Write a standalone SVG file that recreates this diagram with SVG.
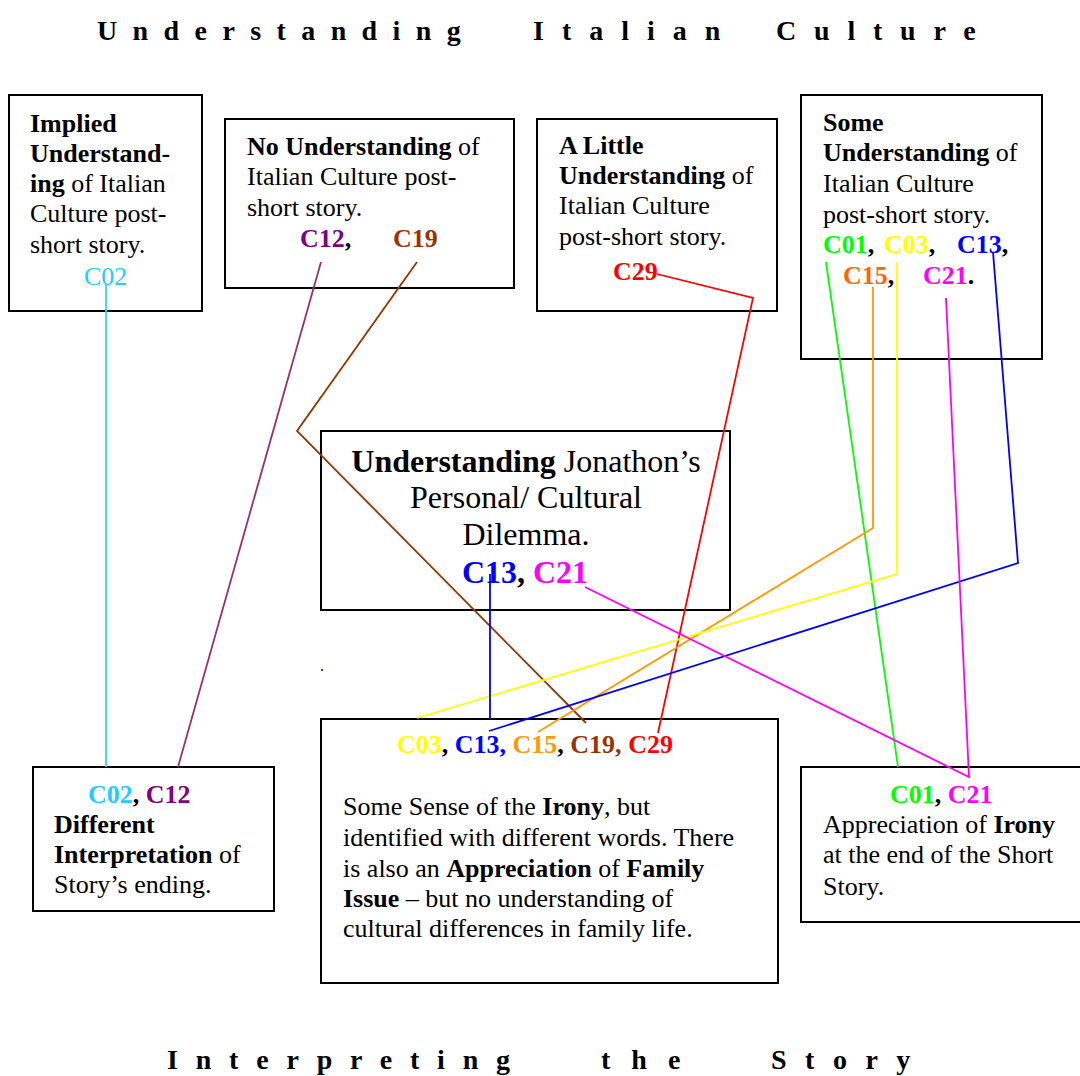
<svg xmlns="http://www.w3.org/2000/svg" width="1080" height="1076" viewBox="0 0 1080 1076">
<style>
text{font-family:"Liberation Serif","Times New Roman",serif;fill:#000}
.t{font-size:26px}
.c{font-size:32px}
.b{font-weight:bold}
.h{font-size:28px;font-weight:bold}
.box{fill:#fff;stroke:#000;stroke-width:2}
.ln{fill:none;stroke-width:1.8}
</style>
<rect width="1080" height="1076" fill="#fff"/>
<g id="title-top">
<text class="h" x="97" y="40" letter-spacing="15.4">Understanding</text>
<text class="h" x="533" y="40" letter-spacing="18">Italian</text>
<text class="h" x="776" y="40" letter-spacing="17.8">Culture</text>
</g>
<g id="title-bottom">
<text class="h" x="167" y="1069" letter-spacing="17.8">Interpreting</text>
<text class="h" x="601" y="1069" letter-spacing="21">the</text>
<text class="h" x="771" y="1069" letter-spacing="18.5">Story</text>
</g>
<g id="implied">
<rect class="box" x="9" y="95" width="193" height="216"/>
<text class="t" x="30" y="132"><tspan class="b">Implied</tspan></text>
<text class="t" x="30" y="162"><tspan class="b">Understand-</tspan></text>
<text class="t" x="30" y="192"><tspan class="b">ing</tspan> of Italian</text>
<text class="t" x="30" y="222">Culture post-</text>
<text class="t" x="30" y="253">short story.</text>
<text class="t" x="84" y="285" style="fill:#22ccff">C02</text>
</g>
<g id="no-understanding">
<rect class="box" x="225" y="119" width="289" height="169"/>
<text class="t" x="247" y="155"><tspan class="b">No Understanding</tspan> of</text>
<text class="t" x="247" y="185">Italian Culture post-</text>
<text class="t" x="247" y="216">short story.</text>
<text class="t b" x="300" y="247"><tspan style="fill:#800080">C12</tspan>,</text>
<text class="t b" x="393" y="247" style="fill:#993300">C19</text>
</g>
<g id="little-understanding">
<rect class="box" x="537" y="119" width="240" height="192"/>
<text class="t" x="559" y="154"><tspan class="b">A Little</tspan></text>
<text class="t" x="559" y="184"><tspan class="b">Understanding</tspan> of</text>
<text class="t" x="559" y="214">Italian Culture</text>
<text class="t" x="559" y="245">post-short story.</text>
<text class="t b" x="613" y="280" style="fill:#ff0000">C29</text>
</g>
<g id="some-understanding">
<rect class="box" x="801" y="95" width="241" height="264"/>
<text class="t" x="823" y="131"><tspan class="b">Some</tspan></text>
<text class="t" x="823" y="161"><tspan class="b">Understanding</tspan> of</text>
<text class="t" x="823" y="192">Italian Culture</text>
<text class="t" x="823" y="223">post-short story.</text>
<text class="t b" y="253"><tspan x="823" style="fill:#00ff00">C01</tspan><tspan>,</tspan><tspan x="884" style="fill:#ffff00">C03</tspan><tspan>,</tspan><tspan x="957" style="fill:#0000ff">C13</tspan><tspan>,</tspan></text>
<text class="t b" y="284"><tspan x="843" style="fill:#ff6600">C15</tspan><tspan>,</tspan><tspan x="923" style="fill:#ff00ff">C21</tspan><tspan>.</tspan></text>
</g>
<g id="jonathon-dilemma">
<rect class="box" x="321" y="431" width="409" height="179"/>
<text class="c" x="526" y="472" text-anchor="middle"><tspan class="b">Understanding</tspan> Jonathon’s</text>
<text class="c" x="526" y="508" text-anchor="middle">Personal/ Cultural</text>
<text class="c" x="526" y="545" text-anchor="middle">Dilemma.</text>
<text class="c b" x="525" y="583" text-anchor="middle"><tspan style="fill:#0000ff">C13</tspan>, <tspan style="fill:#ff00ff">C21</tspan></text>
</g>
<g id="different-interpretation">
<rect class="box" x="33" y="767" width="241" height="144"/>
<text class="t b" x="88" y="803"><tspan style="fill:#22ccff">C02</tspan>, <tspan style="fill:#800080">C12</tspan></text>
<text class="t" x="54" y="833"><tspan class="b">Different</tspan></text>
<text class="t" x="54" y="863"><tspan class="b">Interpretation</tspan> of</text>
<text class="t" x="54" y="893">Story’s ending.</text>
</g>
<g id="sense-of-irony">
<rect class="box" x="321" y="719" width="457" height="264"/>
<text class="t b" x="397" y="753"><tspan style="fill:#ffff00">C03</tspan>, <tspan style="fill:#0000ff">C13, </tspan><tspan style="fill:#ff9900">C15</tspan>, <tspan style="fill:#993300">C19, </tspan><tspan style="fill:#ff0000">C29</tspan></text>
<text class="t" x="343" y="815">Some Sense of the <tspan class="b">Irony</tspan>, but</text>
<text class="t" x="343" y="846">identified with different words. There</text>
<text class="t" x="343" y="877">is also an <tspan class="b">Appreciation</tspan> of <tspan class="b">Family</tspan></text>
<text class="t" x="343" y="907"><tspan class="b">Issue</tspan> – but no understanding of</text>
<text class="t" x="343" y="937">cultural differences in family life.</text>
</g>
<g id="appreciation-irony">
<rect class="box" x="801" y="767" width="282" height="155"/>
<text class="t b" x="890" y="803"><tspan style="fill:#00ff00">C01</tspan>, <tspan style="fill:#ff00ff">C21</tspan></text>
<text class="t" x="823" y="833">Appreciation of <tspan class="b">Irony</tspan></text>
<text class="t" x="823" y="863">at the end of the Short</text>
<text class="t" x="823" y="895">Story.</text>
</g>
<g id="stray-dot">
<text x="320" y="671" style="font-size:16px">.</text>
</g>
<g id="connectors">
<polyline class="ln" stroke="#22ddff" points="106,283 106,767"/>
<polyline class="ln" stroke="#993366" points="321,262 178,767"/>
<polyline class="ln" stroke="#993300" points="417,262 297,431 586,723"/>
<polyline class="ln" stroke="#ff0000" points="657,274 753,298 658,733"/>
<polyline class="ln" stroke="#00ff00" points="826,262 898,767"/>
<polyline class="ln" stroke="#ff9900" points="873,287 873,528 538,732"/>
<polyline class="ln" stroke="#ffff00" points="897,262 897,574 417,718"/>
<polyline class="ln" stroke="#0000ff" points="993,252 1018,563 489,731"/>
<polyline class="ln" stroke="#0000ff" points="490,574 490,719"/>
<polyline class="ln" stroke="#ff00ff" points="946,298 969,777 585,587"/>
</g>
</svg>
